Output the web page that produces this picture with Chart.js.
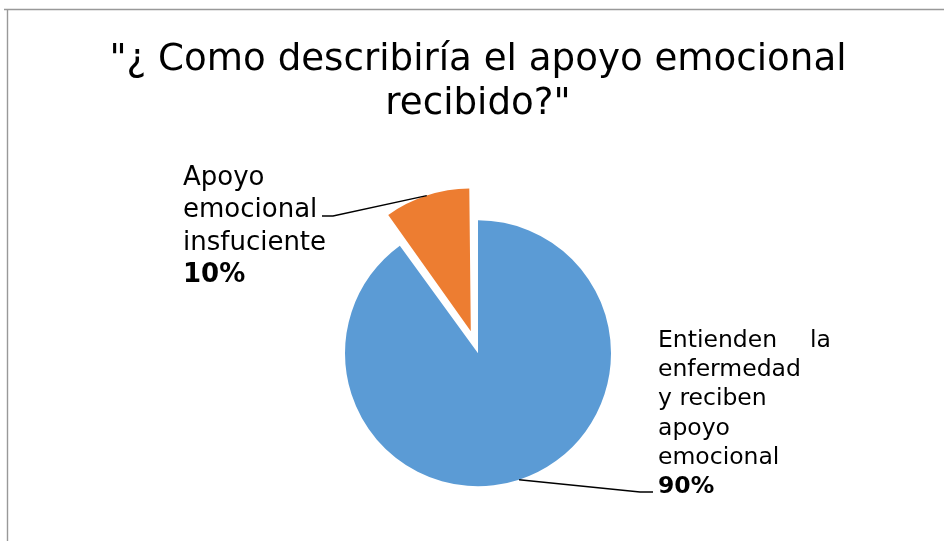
<!DOCTYPE html>
<html>
<head>
<meta charset="utf-8">
<script src="https://cdn.jsdelivr.net/npm/chart.js@4/dist/chart.umd.min.js"></script>
<style>
  html, body { margin: 0; padding: 0; background: #fff; }
  #wrap { width: 944px; height: 545px; position: relative; }
</style>
</head>
<body>
<div id="wrap"><canvas id="chart" width="944" height="545"></canvas></div>
<script>
// Chart data
const titleLines = ['"¿ Como describiría el apoyo emocional', 'recibido?"'];
const categories = ["Entienden la enfermedad y reciben apoyo emocional", "Apoyo emocional insfuciente"];
const percentages = [90, 10];
const sliceColors = ["#5B9BD5", "#ED7D31"];

// where each data label sits (layout only)
const labelLayout = [
    { // blue slice, label on the right
        elbow: [640, 492], end: [653, 492],
        x: 658, width: 173, size: 23.5, lineGap: 29.2, firstBaseline: 347,
        lines: [["Entienden", "la"], ["enfermedad"], ["y reciben"], ["apoyo"], ["emocional"]]
    },
    { // orange slice, label on the left
        elbow: [333, 216], end: [322, 216],
        x: 183, width: 140, size: 26, lineGap: 32.3, firstBaseline: 185,
        lines: [["Apoyo"], ["emocional"], ["insfuciente"]]
    }
];

// grey frame like the original document
const framePlugin = {
    id: "frame",
    beforeDraw(chart) {
        const ctx = chart.ctx;
        ctx.save();
        ctx.fillStyle = "#fff";
        ctx.fillRect(0, 0, chart.width, chart.height);
        ctx.strokeStyle = "#999";
        ctx.lineWidth = 1.4;
        ctx.beginPath();
        ctx.moveTo(4, 9.5);
        ctx.lineTo(chart.width, 9.5);
        ctx.moveTo(7.5, 9.5);
        ctx.lineTo(7.5, 541);
        ctx.stroke();
        ctx.restore();
    }
};

// leader lines + category name + bold percentage
const pieLabels = {
    id: "pieLabels",
    afterDatasetsDraw(chart) {
        const ctx = chart.ctx;
        const meta = chart.getDatasetMeta(0);
        meta.data.forEach(function(arc, i) {
            const p = arc.getProps(["x", "y", "startAngle", "endAngle", "outerRadius", "circumference"], true);
            const mid = (p.startAngle + p.endAngle) / 2;
            // same shift Chart.js applies to an offset arc
            const off = (arc.options.offset || 0) / 4;
            const fix = 1 - Math.sin(Math.min(Math.PI, p.circumference || 0));
            const shift = off + off * fix;
            const sx = p.x + Math.cos(mid) * (shift + p.outerRadius);
            const sy = p.y + Math.sin(mid) * (shift + p.outerRadius);
            const L = labelLayout[i];

            ctx.save();
            ctx.strokeStyle = "#000";
            ctx.lineWidth = 1.3;
            ctx.beginPath();
            ctx.moveTo(sx, sy);
            ctx.lineTo(L.elbow[0], L.elbow[1]);
            ctx.lineTo(L.end[0], L.end[1]);
            ctx.stroke();

            ctx.fillStyle = "#000";
            ctx.textBaseline = "alphabetic";
            ctx.font = L.size + 'px "DejaVu Sans", Verdana, sans-serif';
            let y = L.firstBaseline;
            L.lines.forEach(function(words) {
                ctx.textAlign = "left";
                ctx.fillText(words[0], L.x, y);
                if (words.length > 1) {
                    ctx.textAlign = "right";
                    ctx.fillText(words[1], L.x + L.width, y);
                }
                y += L.lineGap;
            });
            ctx.textAlign = "left";
            ctx.font = "bold " + L.size + 'px "DejaVu Sans", Verdana, sans-serif';
            ctx.fillText(percentages[i] + "%", L.x, y);
            ctx.restore();
        });
    }
};

const ctx = document.getElementById("chart").getContext("2d");
const myChart = new Chart(ctx, {
    type: "pie",
    data: {
        labels: categories,
        datasets: [{
            data: percentages,
            backgroundColor: sliceColors,
            borderWidth: 0,
            offset: [0, 93],
            hoverOffset: 0
        }]
    },
    options: {
        responsive: false,
        animation: false,
        events: [],
        radius: 133,
        layout: { padding: { top: 38, left: 12, right: 0, bottom: 54 } },
        plugins: {
            legend: { display: false },
            tooltip: { enabled: false },
            title: {
                display: true,
                text: titleLines,
                color: "#000",
                font: { family: '"DejaVu Sans", Verdana, sans-serif', size: 37.2, weight: "normal", lineHeight: 1.19 },
                padding: { top: 0, bottom: 89 }
            }
        }
    },
    plugins: [framePlugin, pieLabels]
});
</script>
</body>
</html>
